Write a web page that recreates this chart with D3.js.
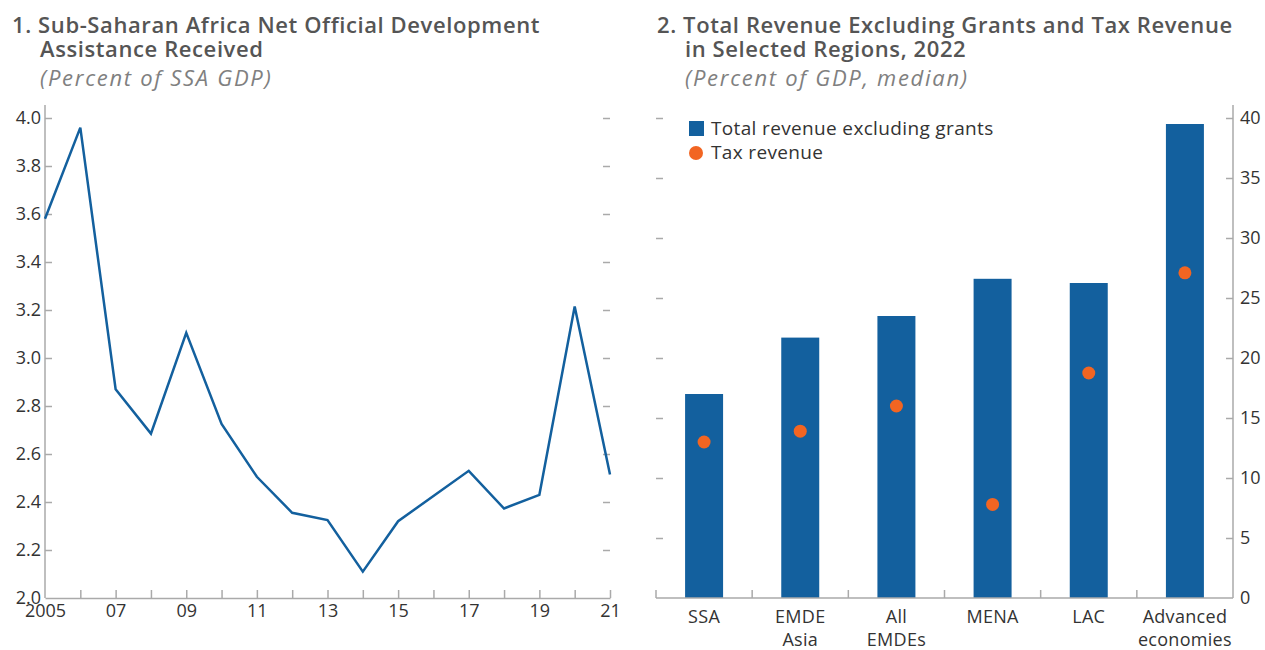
<!DOCTYPE html>
<html>
<head>
<meta charset="utf-8">
<script src="https://cdn.jsdelivr.net/npm/d3@7"></script>
<style>
  body { margin: 0; background: #fff; }
  svg text { font-family: "Open Sans", "Noto Sans", sans-serif; }
  .tick line { stroke: #aaa; stroke-width: 1.5; }
  .tick text { fill: #333; font-size: 18px; }
</style>
</head>
<body>
<div id="chart"></div>
<script>
// Panel 1: ODA received, percent of SSA GDP
var years = [2005, 2006, 2007, 2008, 2009, 2010, 2011, 2012, 2013, 2014, 2015, 2016, 2017, 2018, 2019, 2020, 2021];
var odaValues = [3.58, 3.96, 2.87, 2.685, 3.105, 2.725, 2.505, 2.355, 2.325, 2.11, 2.32, 2.425, 2.53, 2.373, 2.43, 3.215, 2.515];
var odaTicks = [2.0, 2.2, 2.4, 2.6, 2.8, 3.0, 3.2, 3.4, 3.6, 3.8, 4.0];

// Panel 2: revenue by region
var regions = ["SSA", "EMDE Asia", "All EMDEs", "MENA", "LAC", "Advanced economies"];
var regionLabels = [["SSA"], ["EMDE", "Asia"], ["All", "EMDEs"], ["MENA"], ["LAC"], ["Advanced", "economies"]];
var totalRevenue = [17.0, 21.7, 23.5, 26.6, 26.25, 39.5];
var taxRevenue = [13.0, 13.9, 16.0, 7.8, 18.75, 27.1];
var revTicks = [0, 5, 10, 15, 20, 25, 30, 35, 40];

var blue = "#13609e", orange = "#f26522";

var svg = d3.select("#chart").append("svg")
    .attr("width", 1265)
    .attr("height", 650);

function title(x, lines, sub) {
  var t = svg.append("text")
      .attr("x", x).attr("y", 33)
      .style("font-size", "22px").style("font-weight", 600).style("fill", "#555")
      .style("letter-spacing", "0.6px");
  t.append("tspan").attr("x", x).text(lines[0]);
  t.append("tspan").attr("x", x + 28).attr("dy", 24).text(lines[1]);
  svg.append("text")
      .attr("x", x + 28).attr("y", 86)
      .style("font-size", "22px").style("font-style", "italic").style("fill", "#808080")
      .style("letter-spacing", "1.7px")
      .text(sub);
}

title(12, ["1. Sub-Saharan Africa Net Official Development", "Assistance Received"], "(Percent of SSA GDP)");
title(657, ["2. Total Revenue Excluding Grants and Tax Revenue", "in Selected Regions, 2022"], "(Percent of GDP, median)");

var plotTop = 105, plotBottom = 598;

// ---------- panel 1 ----------
var x1 = d3.scaleLinear().domain([2005, 2021]).range([45, 610]);
var y1 = d3.scaleLinear().domain([2, 4]).range([plotBottom, 118]);

svg.append("line")
    .attr("x1", 45).attr("x2", 45).attr("y1", plotTop).attr("y2", plotBottom)
    .style("stroke", "#aaa").style("stroke-width", 1.5);

svg.append("g")
    .attr("transform", "translate(45,0)")
    .call(d3.axisLeft(y1).tickValues(odaTicks).tickFormat(d3.format(".1f")).tickSizeInner(-7).tickSizeOuter(0).tickPadding(4))
    .call(g => g.select(".domain").remove())
    .call(g => g.selectAll(".tick").filter(d => d === 2).select("line").remove());

svg.append("g")
    .attr("transform", "translate(610,0)")
    .call(d3.axisRight(y1).tickValues(odaTicks.slice(1)).tickSizeInner(-7).tickFormat(""))
    .call(g => g.select(".domain").remove());

svg.append("g")
    .attr("transform", "translate(0," + plotBottom + ")")
    .call(d3.axisBottom(x1).tickValues(years).tickSizeInner(-8).tickSizeOuter(0).tickPadding(6)
      .tickFormat(d => d === 2005 ? "2005" : (d % 2 === 1 ? d3.format("02")(d % 100) : "")))
    .call(g => g.select(".domain").style("stroke", "#aaa").style("stroke-width", 1.5))
    .call(g => g.selectAll(".tick").filter(d => d === 2005).select("line").remove());

svg.append("path")
    .datum(odaValues)
    .attr("d", d3.line().x((d, i) => x1(years[i])).y(d => y1(d)))
    .style("fill", "none").style("stroke", blue).style("stroke-width", 2.5);

// ---------- panel 2 ----------
var x2 = d3.scaleBand().domain(regions).range([656, 1233]).padding(0);
var y2 = d3.scaleLinear().domain([0, 40]).range([plotBottom, 118]);
var barW = x2.bandwidth() * 0.395;

svg.append("line")
    .attr("x1", 1233).attr("x2", 1233).attr("y1", plotTop).attr("y2", plotBottom)
    .style("stroke", "#aaa").style("stroke-width", 1.5);

svg.append("g")
    .attr("transform", "translate(1233,0)")
    .call(d3.axisRight(y2).tickValues(revTicks).tickSizeInner(-7).tickSizeOuter(0).tickPadding(7))
    .call(g => g.select(".domain").remove())
    .call(g => g.selectAll(".tick").filter(d => d === 0).select("line").remove());

svg.append("g")
    .attr("transform", "translate(656,0)")
    .call(d3.axisLeft(y2).tickValues(revTicks.slice(1)).tickSizeInner(-7).tickFormat(""))
    .call(g => g.select(".domain").remove());

svg.selectAll(".bar")
    .data(totalRevenue)
    .enter().append("rect")
    .attr("class", "bar")
    .attr("x", (d, i) => x2(regions[i]) + (x2.bandwidth() - barW) / 2)
    .attr("width", barW)
    .attr("y", d => y2(d))
    .attr("height", d => plotBottom - y2(d))
    .style("fill", blue);

// bottom axis with boundary ticks
var bx = svg.append("g").attr("transform", "translate(0," + plotBottom + ")");
bx.append("line").attr("x1", 656).attr("x2", 1233)
    .style("stroke", "#aaa").style("stroke-width", 1.5);
bx.selectAll(".bt")
    .data(regions)
    .enter().append("line")
    .attr("x1", d => x2(d)).attr("x2", d => x2(d))
    .attr("y1", 0).attr("y2", -8)
    .style("stroke", "#aaa").style("stroke-width", 1.5);

bx.selectAll(".cat")
    .data(regionLabels)
    .enter().append("text")
    .attr("text-anchor", "middle")
    .style("font-size", "18px").style("fill", "#333").style("letter-spacing", "0.3px")
    .each(function(lines, i) {
      var t = d3.select(this);
      lines.forEach(function(l, j) {
        t.append("tspan")
          .attr("x", x2(regions[i]) + x2.bandwidth() / 2)
          .attr("y", 25 + j * 23)
          .text(l);
      });
    });

svg.selectAll(".dot")
    .data(taxRevenue)
    .enter().append("circle")
    .attr("cx", (d, i) => x2(regions[i]) + x2.bandwidth() / 2)
    .attr("cy", d => y2(d))
    .attr("r", 6.5)
    .style("fill", orange);

// legend
svg.append("rect").attr("x", 689).attr("y", 121).attr("width", 15).attr("height", 15).style("fill", blue);
svg.append("text").attr("x", 711).attr("y", 135).style("font-size", "19px").style("fill", "#333")
    .style("letter-spacing", "0.35px")
    .text("Total revenue excluding grants");
svg.append("circle").attr("cx", 696).attr("cy", 153).attr("r", 7).style("fill", orange);
svg.append("text").attr("x", 711).attr("y", 159).style("font-size", "19px").style("fill", "#333")
    .style("letter-spacing", "0.35px")
    .text("Tax revenue");
</script>
</body>
</html>
